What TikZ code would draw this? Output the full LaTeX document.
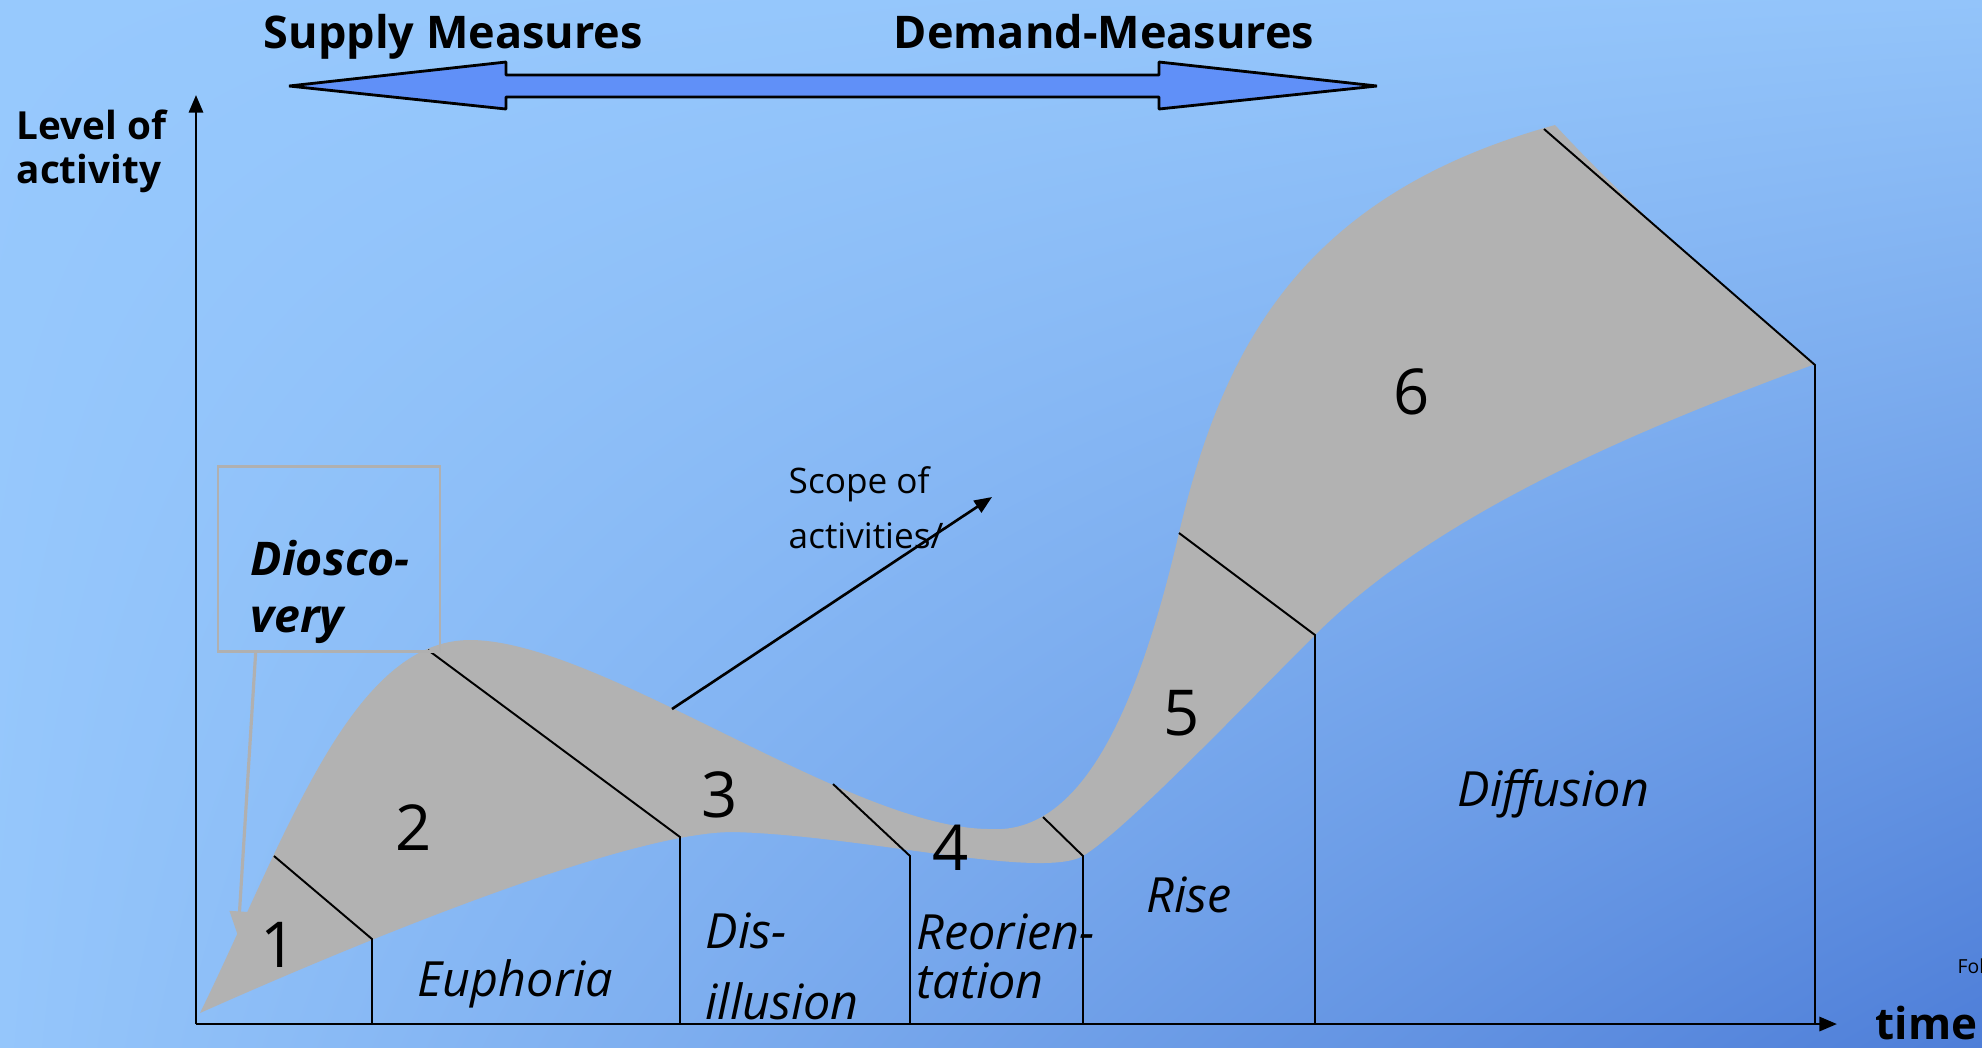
\documentclass[tikz,border=0pt]{standalone}
\usepackage{fontspec}
\setmainfont{Open Sans}
\usetikzlibrary{arrows.meta,shadings}
\definecolor{bgtl}{HTML}{97C9FD}
\definecolor{bgtr}{HTML}{93C4FA}
\definecolor{bgbl}{HTML}{95C6FB}
\definecolor{bgbr}{HTML}{4E7ED8}
\definecolor{band}{HTML}{B2B2B2}
\definecolor{boxgray}{HTML}{B0B0B0}
\definecolor{measure}{HTML}{6090F8}
\begin{document}
\begin{tikzpicture}[x=0.01cm,y=-0.01cm,
  axis/.style={line width=0.8pt,-{Triangle[length=5pt,width=4pt]}},
  divider/.style={line width=0.55pt},
  phase/.style={font=\fontsize{18}{20}\selectfont,inner sep=0pt},
  stage/.style={font=\fontsize{13.8}{16}\selectfont\itshape,inner sep=0pt,anchor=base west},
  heading/.style={font=\fontsize{12.8}{15}\selectfont\bfseries,inner sep=0pt,anchor=base west},
  callout/.style={draw=boxgray,line width=0.9pt,-{Triangle[length=7pt,width=5.5pt,fill=band,color=band]}},
]
\useasboundingbox (0,0) rectangle (1982,1047);
% background
\shade[upper left=bgtl, upper right=bgtr, lower left=bgbl, lower right=bgbr]
  (0,0) rectangle (1982,1047);

% key points
\coordinate (O) at (196,1024);
\coordinate (yend) at (196,95);
\coordinate (xend) at (1837,1024);

% the band of activity: upper edge, right edge, lower edge
\fill[band] (200,1013)
  .. controls (285,840) and (350,640) .. (470,640)
  .. controls (600,640) and (850,829) .. (990,829)
  .. controls (1085,835) and (1140,700) .. (1179,533)
  .. controls (1222,350) and (1300,195) .. (1555,125)
  .. controls (1615,190) and (1700,270) .. (1815,364)
  .. controls (1650,425) and (1440,510) .. (1315,635)
  .. controls (1230,720) and (1125,830) .. (1083,856)
  .. controls (1040,880) and (860,835) .. (733,832)
  .. controls (620,832) and (330,955) .. (200,1013) -- cycle;

% phase boundaries
\coordinate (d1a) at (274,856);  \coordinate (d1b) at (372,939);
\coordinate (d2a) at (428,650);  \coordinate (d2b) at (680,837);
\coordinate (d3a) at (833,784);  \coordinate (d3b) at (910,856);
\coordinate (d4a) at (1043,817); \coordinate (d4b) at (1083,856);
\coordinate (d5a) at (1179,533); \coordinate (d5b) at (1315,635);
\coordinate (d6a) at (1544,129); \coordinate (d6b) at (1815,365);
\foreach \i in {1,...,6}{
  \draw[divider] (d\i a) -- (d\i b) -- (d\i b |- O);
}

% axes
\draw[axis] (O) -- (yend);
\draw[axis] (O) -- (xend);

% supply / demand double arrow
\draw[line width=0.8pt, fill=measure, line join=bevel]
  (289,86) -- (506,62) -- (506,75) -- (1159,75) -- (1159,62) -- (1377,86)
  -- (1159,109) -- (1159,97) -- (506,97) -- (506,109) -- cycle;
\node[heading] (supply) at (263,48) {Supply Measures};
\node[heading] (demand) at (893,48) {Demand-Measures};

% axis labels
\node[heading,font=\fontsize{11}{13}\selectfont\bfseries] (level1) at (16,139) {Level of};
\node[heading,font=\fontsize{11}{13}\selectfont\bfseries] (level2) at (16,183) {activity};
\node[heading,font=\fontsize{12.5}{14}\selectfont\bfseries] (time) at (1875,1039) {time};
\node[anchor=base west,inner sep=0pt,font=\fontsize{5.5}{6}\selectfont] (fol) at (1957,973) {Fol};

% scope of activities
\coordinate (scopefoot) at (672,709);
\coordinate (scopetip) at (992,497);
\draw[line width=0.75pt,-{Triangle[length=5pt,width=4pt]}] (scopefoot) -- (scopetip);
\node[anchor=base west,inner sep=0pt,font=\fontsize{10}{12}\selectfont] (scope1) at (788,493) {Scope of};
\node[anchor=base west,inner sep=0pt,font=\fontsize{10}{12}\selectfont] (scope2) at (788,548) {activities/};

% discovery callout
\node[draw=boxgray,line width=0.75pt,minimum width=2.22cm,minimum height=1.85cm,inner sep=0pt] (disc) at (329,559) {};
\node[stage,font=\fontsize{13.2}{15}\selectfont\bfseries\itshape] (disc1) at (250,575) {Diosco-};
\node[stage,font=\fontsize{13.2}{15}\selectfont\bfseries\itshape] (disc2) at (250,632) {very};
\coordinate (disctip) at (238,936);
\draw[callout] ([xshift=0.39cm]disc.south west) -- (disctip);

% phase numbers
\node[phase] (n1) at (279,945) {1};
\node[phase] (n2) at (414,828) {2};
\node[phase] (n3) at (720,795) {3};
\node[phase] (n4) at (951,848) {4};
\node[phase] (n5) at (1182,713) {5};
\node[phase] (n6) at (1412,392) {6};

% phase names
\node[stage] (euph) at (417,996) {Euphoria};
\node[stage] (dis1) at (705,948) {Dis-};
\node[stage] (dis2) at (705,1019) {illusion};
\node[stage] (reo1) at (916,949) {Reorien-};
\node[stage] (reo2) at (916,998) {tation};
\node[stage] (rise) at (1146,912) {Rise};
\node[stage] (diff) at (1457,806) {Diffusion};
\end{tikzpicture}
\end{document}
